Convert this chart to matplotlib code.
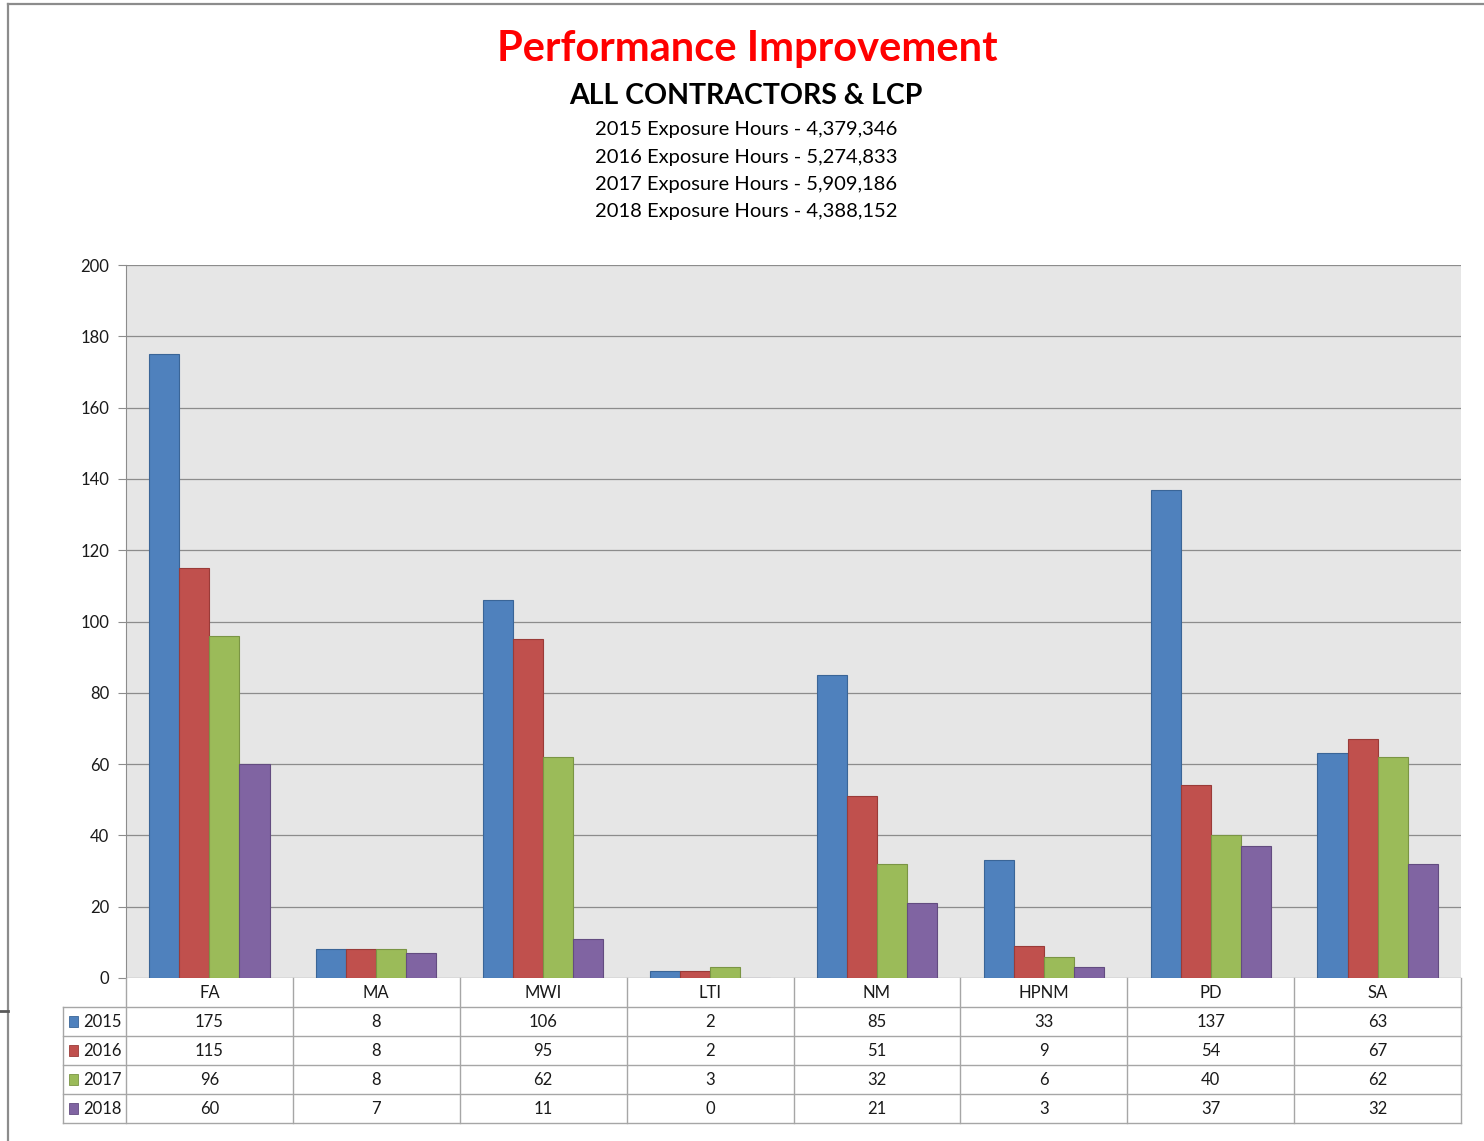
import matplotlib
matplotlib.use("Agg")
import matplotlib.pyplot as plt
from matplotlib.patches import Rectangle
from matplotlib.lines import Line2D
import numpy as np

plt.rcParams['font.family'] = ['Lato', 'DejaVu Sans']

categories = ["FA", "MA", "MWI", "LTI", "NM", "HPNM", "PD", "SA"]
series_names = ["2015", "2016", "2017", "2018"]
v2015 = [175, 8, 106, 2, 85, 33, 137, 63]
v2016 = [115, 8, 95, 2, 51, 9, 54, 67]
v2017 = [96, 8, 62, 3, 32, 6, 40, 62]
v2018 = [60, 7, 11, 0, 21, 3, 37, 32]
series_values = [v2015, v2016, v2017, v2018]
colors = ["#4F81BD", "#C0504D", "#9BBB59", "#8064A2"]
edges = ["#3A6597", "#9A3B38", "#7A9544", "#634C80"]
yticks = [0, 20, 40, 60, 80, 100, 120, 140, 160, 180, 200]
title = "Performance Improvement"
subtitle = "ALL CONTRACTORS & LCP"
exposure_lines = ["2015 Exposure Hours - 4,379,346",
                  "2016 Exposure Hours - 5,274,833",
                  "2017 Exposure Hours - 5,909,186",
                  "2018 Exposure Hours - 4,388,152"]

W, H = 1484, 1141
fig = plt.figure(figsize=(W / 100, H / 100), dpi=100)

def fx(px):
    return px / W

def fy(py):
    return 1 - py / H

# outer chart border
fig.add_artist(Line2D([fx(8), fx(1484)], [fy(4), fy(4)], color="#8C8C8C", lw=1.6))
fig.add_artist(Line2D([fx(8), fx(8)], [fy(4), fy(1141)], color="#8C8C8C", lw=1.6))
fig.add_artist(Line2D([fx(0), fx(8)], [fy(1011), fy(1011)], color="#595959", lw=2.0))

# titles
fig.text(fx(747), fy(49), title, color="#FF0000", fontsize=30, fontweight="bold",
         ha="center", va="center")
fig.text(fx(746), fy(96), subtitle, color="black", fontsize=20.5, fontweight="bold",
         ha="center", va="center")
for i, line in enumerate(exposure_lines):
    fig.text(fx(746), fy(130 + 27.3 * i), line, color="black", fontsize=14.5,
             ha="center", va="center")

# main axes
L, R, T, B = 126, 1461, 265, 978
ax = fig.add_axes([fx(L), fy(B), fx(R) - fx(L), fy(T) - fy(B)])
ax.set_facecolor("#E6E6E6")
n = len(categories)
x = np.arange(n)
bw = 0.18
for k, (vals, c, e) in enumerate(zip(series_values, colors, edges)):
    offs = (k - 1.5) * bw
    ax.bar(x + 0.5 + offs, vals, width=bw, color=c, edgecolor=e, linewidth=0.8, zorder=3)
ax.set_xlim(0, n)
ax.set_ylim(0, 200)
ax.set_yticks(yticks)
ax.set_yticklabels([str(t) for t in yticks], fontsize=12)
ax.yaxis.grid(True, color="#8C8C8C", lw=0.9, zorder=0)
ax.set_axisbelow(True)
ax.set_xticks([])
for s in ["top", "right", "bottom"]:
    ax.spines[s].set_visible(False)
ax.spines["left"].set_color("#8C8C8C")
ax.tick_params(axis="y", length=6, color="#8C8C8C", pad=6, labelcolor="#1A1A1A")

# data table axes
TL, TB = 63, 1123
cw = (R - L) / n
left_units = (L - TL) / cw
tax = fig.add_axes([fx(TL), fy(TB), fx(R) - fx(TL), fy(B) - fy(TB)])
tax.set_xlim(-left_units, n)
tax.set_ylim(5, 0)
tax.axis("off")
lc = "#A6A6A6"
lw = 1.0
for i in range(n + 1):
    tax.plot([i, i], [0, 5], color=lc, lw=lw, clip_on=False)
tax.plot([-left_units, -left_units], [1, 5], color=lc, lw=lw, clip_on=False)
for r in range(1, 6):
    tax.plot([-left_units, n], [r, r], color=lc, lw=lw, clip_on=False)
for i, cat in enumerate(categories):
    tax.text(i + 0.5, 0.53, cat, ha="center", va="center", fontsize=12, color="#1A1A1A")
for r, (name, vals, c, e) in enumerate(zip(series_names, series_values, colors, edges)):
    yc = r + 1.53
    tax.add_patch(Rectangle((-left_units + 0.035, yc - 0.23), 0.055, 0.4,
                            facecolor=c, edgecolor=e, lw=0.6, clip_on=False))
    tax.text(-left_units + 0.12, yc, name, ha="left", va="center", fontsize=12, color="#1A1A1A")
    for i, v in enumerate(vals):
        tax.text(i + 0.5, yc, str(v), ha="center", va="center", fontsize=12, color="#1A1A1A")

fig.savefig("out.png", dpi=100, facecolor="white")
